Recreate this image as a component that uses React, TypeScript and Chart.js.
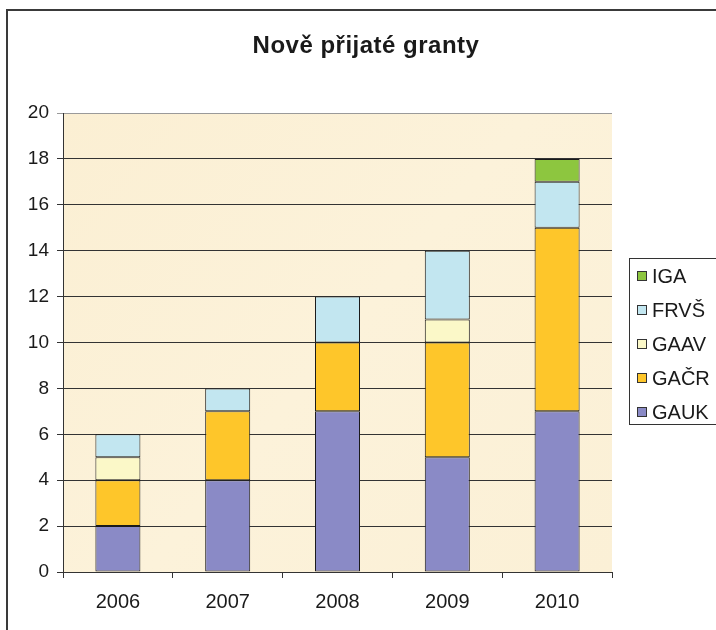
import React, { useEffect, useRef } from "react";
import { Chart, registerables } from "chart.js";

Chart.register(...registerables);

const TITLE = "Nově přijaté granty";
const YEARS = ["2006", "2007", "2008", "2009", "2010"];
const GAUK = [2, 4, 7, 5, 7];
const GACR = [2, 3, 3, 5, 8];
const GAAV = [1, 0, 0, 1, 0];
const FRVS = [1, 1, 2, 3, 2];
const IGA = [0, 0, 0, 0, 1];
const SERIES_NAMES = ["GAUK", "GAČR", "GAAV", "FRVŠ", "IGA"];
const SERIES_COLORS = ["#8a8ac6", "#fec62a", "#fbf8c8", "#c2e6f0", "#8dc63f"];
const Y_MIN = 0;
const Y_MAX = 20;
const Y_STEP = 2;

const FONT = "'Liberation Sans', Arial, sans-serif";

const decorPlugin = {
  id: "decor",
  beforeDraw(chart: any) {
    const { ctx, chartArea } = chart;
    const { left, top, right, bottom } = chartArea;
    ctx.save();
    ctx.fillStyle = "#ffffff";
    ctx.fillRect(0, 0, chart.width, chart.height);
    const g = ctx.createLinearGradient(left, top, right, bottom);
    g.addColorStop(0, "#fbefd3");
    g.addColorStop(0.5, "#fcf2da");
    g.addColorStop(1, "#fbf0d6");
    ctx.fillStyle = g;
    ctx.fillRect(left, top, right - left, bottom - top);
    ctx.restore();
  },
  afterDraw(chart: any) {
    const { ctx } = chart;
    ctx.save();
    // outer border
    ctx.strokeStyle = "#3a3a3a";
    ctx.lineWidth = 2;
    ctx.strokeRect(7, 10, 900, 900);
    // title
    ctx.fillStyle = "#1a1a1a";
    ctx.font = `bold 24px ${FONT}`;
    (ctx as any).letterSpacing = "0.5px";
    ctx.textAlign = "center";
    ctx.textBaseline = "middle";
    ctx.fillText(TITLE, 366, 46);
    (ctx as any).letterSpacing = "0px";
    // legend
    ctx.strokeStyle = "#333";
    ctx.lineWidth = 1;
    ctx.strokeRect(629.5, 258.5, 200, 166);
    const ds = chart.data.datasets;
    ctx.font = `20px ${FONT}`;
    ctx.textAlign = "left";
    ctx.textBaseline = "middle";
    for (let i = 0; i < ds.length; i++) {
      const idx = ds.length - 1 - i;
      const y = 276 + i * 34;
      ctx.fillStyle = ds[idx].backgroundColor;
      ctx.fillRect(637, y - 5, 10, 10);
      ctx.strokeStyle = "#333";
      ctx.strokeRect(637.5, y - 4.5, 9, 9);
      ctx.fillStyle = "#1a1a1a";
      ctx.fillText(ds[idx].label, 652, y + 1);
    }
    ctx.restore();
  },
};

export default function App() {
  const ref = useRef<HTMLCanvasElement>(null);
  useEffect(() => {
    document.body.style.margin = "0";
    const values = [GAUK, GACR, GAAV, FRVS, IGA];
    const chart = new Chart(ref.current as HTMLCanvasElement, {
      type: "bar",
      data: {
        labels: YEARS,
        datasets: SERIES_NAMES.map((name, i) => ({
          label: name,
          data: values[i],
          backgroundColor: SERIES_COLORS[i],
          borderColor: "#1a1a1a",
          borderWidth: 1,
          borderSkipped: false,
          categoryPercentage: 1,
          barPercentage: 0.41,
        })),
      },
      options: {
        responsive: false,
        animation: false,
        layout: { padding: { left: 0, right: 104, top: 113, bottom: 0 } },
        plugins: {
          legend: { display: false },
          title: { display: false },
          tooltip: { enabled: false },
        },
        scales: {
          x: {
            stacked: true,
            afterFit: (s: any) => {
              s.height = 58;
            },
            grid: {
              offset: true,
              drawOnChartArea: false,
              drawTicks: true,
              tickLength: 6,
              color: "#333",
            },
            border: { display: true, color: "#333", width: 1 },
            ticks: {
              color: "#1a1a1a",
              font: { family: FONT, size: 20 },
              padding: 12,
            },
          },
          y: {
            stacked: true,
            min: Y_MIN,
            max: Y_MAX,
            afterFit: (s: any) => {
              s.width = 63;
            },
            grid: {
              color: (c: any) => (c.tick && c.tick.value === Y_MAX ? "#9a9a9a" : "#333"),
              lineWidth: 1,
              drawTicks: true,
              tickLength: 6,
            },
            border: { display: true, color: "#333", width: 1 },
            ticks: {
              stepSize: Y_STEP,
              color: "#1a1a1a",
              font: { family: FONT, size: 19 },
              padding: 8,
            },
          },
        },
      },
      plugins: [decorPlugin],
    } as any);
    return () => chart.destroy();
  }, []);
  return (
    <div style={{ position: "fixed", left: 0, top: 0, width: 716, height: 630 }}>
      <canvas ref={ref} width={716} height={630} style={{ width: 716, height: 630 }} />
    </div>
  );
}
